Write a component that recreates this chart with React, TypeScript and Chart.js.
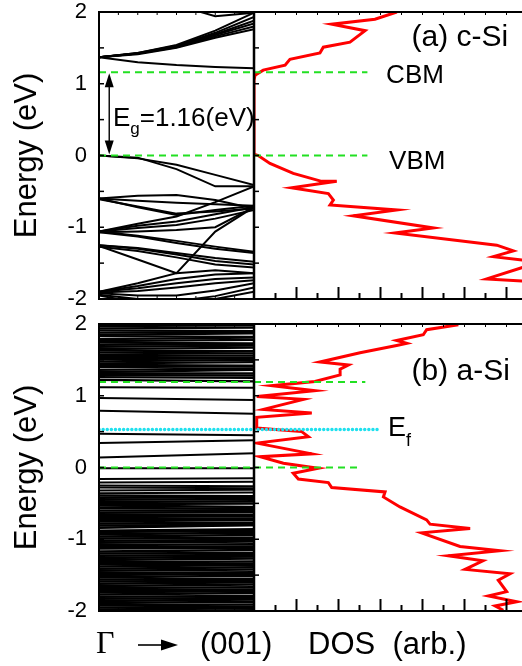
import React, { useEffect, useRef } from "react";
import { Chart, registerables } from "chart.js";

Chart.register(...registerables);

const FONT = "'Liberation Sans', Arial, Helvetica, sans-serif";
const SERIF = "'Liberation Serif', 'Times New Roman', serif";
const W = 522;
const H = 666;

// ---------------- data ----------------
const energyTicks = [-2, -1, 0, 1, 2];
const energyMinorTicks = [-1.5, -1, -0.5, 0, 0.5, 1, 1.5];
const kTicks = [0.125, 0.25, 0.375, 0.5, 0.625, 0.75, 0.875];
const dosTicks = [1, 2, 3, 4, 5, 6, 7, 8, 9, 10, 11, 12];
const dosMax = 12.76;

// c-Si band structure, energies (eV) at k nodes along Γ → (001)
const kNodes = [0, 0.25, 0.5, 0.75, 1];
const cSiBands = [
  [2.3, 2.2, 2.1, 1.94, 1.99],
  [1.37, 1.43, 1.54, 1.74, 1.99],
  [1.37, 1.43, 1.53, 1.71, 1.93],
  [1.37, 1.42, 1.52, 1.69, 1.88],
  [1.37, 1.42, 1.52, 1.68, 1.84],
  [1.37, 1.42, 1.51, 1.66, 1.8],
  [1.37, 1.41, 1.5, 1.64, 1.76],
  [1.37, 1.3, 1.26, 1.235, 1.215],
  [0, -0.04, -0.13, -0.27, -0.41],
  [0, -0.03, -0.19, -0.43, -0.43],
  [-0.6, -0.56, -0.55, -0.62, -0.74],
  [-0.6, -0.63, -0.66, -0.68, -0.7],
  [-0.6, -0.72, -0.83, -0.76, -0.7],
  [-0.61, -0.71, -0.81, -0.78, -0.74],
  [-1.06, -0.95, -0.85, -0.65, -0.43],
  [-1.06, -0.98, -0.92, -0.82, -0.72],
  [-1.06, -1.01, -0.97, -0.88, -0.76],
  [-1.07, -1.06, -1.04, -1.0, -0.72],
  [-1.06, -1.12, -1.19, -1.27, -1.34],
  [-1.07, -1.13, -1.22, -1.3, -1.36],
  [-1.25, -1.29, -1.36, -1.43, -1.48],
  [-1.25, -1.3, -1.38, -1.47, -1.52],
  [-1.27, -1.33, -1.42, -1.52, -1.56],
  [-1.26, -1.45, -1.64, -1.6, -1.64],
  [-1.9, -1.78, -1.64, -1.06, -0.72],
  [-1.9, -1.82, -1.72, -1.66, -1.64],
  [-1.9, -1.85, -1.78, -1.72, -1.7],
  [-1.91, -1.89, -1.84, -1.78, -1.74],
  [-1.92, -1.95, -1.95, -1.88, -1.78],
  [-1.94, -2.0, -2.03, -1.96, -1.84],
  [-1.95, -2.05, -2.1, -2.0, -1.9],
];

// a-Si band structure: energies (eV) at the two ends of the path
const aSiK = [0, 1];
const aSiUpperBands = [
  [2.0, 2.0], [1.97, 1.98], [1.94, 1.95], [1.91, 1.9], [1.88, 1.89], [1.85, 1.87],
  [1.83, 1.82], [1.79, 1.81], [1.76, 1.78], [1.74, 1.73], [1.71, 1.72], [1.68, 1.7],
  [1.65, 1.67], [1.63, 1.62], [1.6, 1.59], [1.57, 1.56], [1.54, 1.53], [1.51, 1.52],
  [1.48, 1.5], [1.45, 1.47], [1.43, 1.42], [1.4, 1.41], [1.36, 1.38], [1.33, 1.36],
  [1.31, 1.31], [1.29, 1.28], [1.26, 1.25], [1.22, 1.2],
];
const aSiGapBands = [
  [1.12, 1.11], [0.97, 0.94], [0.79, 0.75], [0.47, 0.45], [0.34, 0.38], [0.14, 0.2],
  [-0.01, -0.01], [-0.16, -0.15], [-0.21, -0.2], [-0.25, -0.26], [-0.28, -0.29],
  [-0.32, -0.31], [-0.36, -0.35],
];
const aSiLowerBands = [
  [-0.39, -0.4], [-0.42, -0.41], [-0.45, -0.44], [-0.48, -0.47],
  [-0.51, -0.5], [-0.53, -0.55], [-0.56, -0.58], [-0.6, -0.6], [-0.63, -0.62],
  [-0.66, -0.66], [-0.69, -0.68], [-0.72, -0.71], [-0.75, -0.73], [-0.78, -0.77],
  [-0.81, -0.8], [-0.84, -0.8], [-0.88, -0.86], [-0.9, -0.88], [-0.93, -0.91],
  [-0.96, -0.94], [-0.99, -0.98], [-1.02, -1.01], [-1.05, -1.03], [-1.08, -1.07],
  [-1.11, -1.1], [-1.13, -1.12], [-1.17, -1.15], [-1.2, -1.19], [-1.23, -1.22],
  [-1.26, -1.24], [-1.29, -1.27], [-1.32, -1.31], [-1.35, -1.34], [-1.38, -1.36],
  [-1.41, -1.39], [-1.44, -1.42], [-1.47, -1.46], [-1.5, -1.48], [-1.53, -1.51],
  [-1.56, -1.55], [-1.59, -1.58], [-1.62, -1.6], [-1.65, -1.63], [-1.68, -1.67],
  [-1.71, -1.7], [-1.74, -1.72], [-1.77, -1.75], [-1.8, -1.79], [-1.83, -1.82],
  [-1.86, -1.84], [-1.89, -1.87], [-1.92, -1.91], [-1.95, -1.94], [-1.98, -1.96],
  [-2.01, -1.99],
];

// DOS curves (energy in eV, DOS in arb. units)
const cSiDosEnergy = [
  2.0, 1.9, 1.83, 1.74, 1.58, 1.51, 1.43, 1.34, 1.26, 1.19, 1.12, 1.05, 0.02, 0.0,
  -0.11, -0.25, -0.36, -0.36, -0.45, -0.53, -0.62, -0.69, -0.76, -0.84, -1.01, -1.08,
  -1.25, -1.33, -1.41, -1.46, -1.5, -1.55, -1.72, -1.75, -2.0,
];
const cSiDos = [
  6.8, 5.76, 3.7, 5.29, 4.57, 3.3, 3.14, 1.71, 1.48, 0.44, 0.05, 0.0, 0.0, 0.2,
  0.76, 1.87, 3.22, 3.94, 1.79, 3.54, 3.78, 3.62, 6.8, 4.73, 8.54, 6.71,
  11.56, 12.35, 11.4, 12.9, 13.3, 12.9, 11.08, 12.9, 13.5,
];
const aSiDosEnergy = [
  1.99, 1.92, 1.85, 1.77, 1.73, 1.7, 1.6, 1.47, 1.43, 1.37, 1.29, 1.2, 1.14, 1.07,
  0.99, 0.95, 0.81, 0.76, 0.7, 0.55, 0.5, 0.43, 0.34, 0.19, 0.15, 0.06, -0.01,
  -0.08, -0.16, -0.21, -0.28, -0.34, -0.41, -0.55, -0.73, -0.79, -0.85, -0.91,
  -1.1, -1.16, -1.23, -1.3, -1.42, -1.48, -1.57, -1.73, -1.79, -1.87, -1.93, -1.99,
];
const aSiDos = [
  9.73, 8.22, 8.06, 6.79, 7.27, 6.79, 5.05, 3.14, 4.5, 4.1, 4.1, 2.9, 0.84, 2.9,
  0.13, 2.35, 0.44, 2.75, 0.13, 0.13, 2.27, 2.59, 0.13, 2.75, 0.29, 1.4, 3.06,
  1.87, 2.11, 3.54, 3.7, 6.24, 6.16, 6.95, 8.22, 8.38, 10.29, 7.98,
  9.81, 11.71, 9.25, 10.9, 10.05, 12.19, 11.63, 12.03, 11.16, 12.51, 11.48, 11.87,
];

// reference levels
const cSiLevels = [1.16, 0]; // CBM, VBM
const cSiLevelDosEnd = [5.4, 5.4];
const aSiLevels = [1.19, 0]; // band edges
const aSiLevelDosEnd = [5.3, 5.1];
const aSiFermi = 0.53;
const aSiFermiDosEnd = 5.9;
const gapArrowK = 0.066;

const GREEN = "#22e022";
const CYAN = "#1fe0ee";

// ---------------- helpers ----------------
type Part = { t: string; size: number; dy?: number; family?: string };
type Label = { x: number; y: number; parts: Part[] };

function textPlugin(id: string, labels: Label[]) {
  return {
    id,
    afterDatasetsDraw(chart: any) {
      const { ctx, scales } = chart;
      ctx.save();
      ctx.fillStyle = "#000";
      ctx.textBaseline = "middle";
      ctx.textAlign = "left";
      for (const L of labels) {
        let px = scales.x.getPixelForValue(L.x);
        const py = scales.y.getPixelForValue(L.y);
        for (const p of L.parts) {
          ctx.font = `${p.size}px ${p.family ?? FONT}`;
          ctx.fillText(p.t, px, py + (p.dy ?? 0));
          px += ctx.measureText(p.t).width;
        }
      }
      ctx.restore();
    },
  };
}

function framePlugin(kind: "band" | "dos") {
  return {
    id: "frame-" + kind,
    afterDatasetsDraw(chart: any) {
      const { ctx, chartArea: a, scales } = chart;
      const xs = scales.x;
      const ys = scales.y;
      ctx.save();
      ctx.strokeStyle = "#000";
      const seg = (x1: number, y1: number, x2: number, y2: number, w: number) => {
        ctx.lineWidth = w;
        ctx.beginPath();
        ctx.moveTo(x1, y1);
        ctx.lineTo(x2, y2);
        ctx.stroke();
      };
      for (const e of energyMinorTicks) {
        const py = ys.getPixelForValue(e);
        seg(a.left, py, a.left + 5, py, 1.5);
      }
      if (kind === "band") {
        for (const k of kTicks) {
          const px = xs.getPixelForValue(k);
          seg(px, a.bottom, px, a.bottom - 3, 1);
          seg(px, a.top, px, a.top + 3, 1);
        }
        ctx.lineWidth = 2;
        ctx.strokeRect(a.left, a.top, a.right - a.left, a.bottom - a.top);
      } else {
        for (const d of dosTicks) {
          const px = Math.round(xs.getPixelForValue(d)) + 0.5;
          seg(px, a.bottom, px, a.bottom - (d % 2 === 0 ? 12 : 6), 2);
          seg(px, a.top, px, a.top + 3, 1);
        }
        seg(a.left, a.top, a.right + 2, a.top, 2);
        seg(a.left, a.top - 1, a.left, a.bottom + 1, 2.5);
        seg(a.left, a.bottom, a.right + 2, a.bottom, 2);
      }
      ctx.restore();
    },
  };
}

const gapArrowPlugin = {
  id: "gapArrow",
  afterDatasetsDraw(chart: any) {
    const { ctx, scales } = chart;
    const x = scales.x.getPixelForValue(gapArrowK);
    const y1 = scales.y.getPixelForValue(cSiLevels[0]);
    const y2 = scales.y.getPixelForValue(cSiLevels[1]);
    const hl = 15;
    const hw = 4.5;
    ctx.save();
    ctx.strokeStyle = "#000";
    ctx.fillStyle = "#000";
    ctx.lineWidth = 1.4;
    ctx.beginPath();
    ctx.moveTo(x, y1 + hl - 2);
    ctx.lineTo(x, y2 - hl + 2);
    ctx.stroke();
    ctx.beginPath();
    ctx.moveTo(x, y1 + 1);
    ctx.lineTo(x - hw, y1 + hl);
    ctx.lineTo(x + hw, y1 + hl);
    ctx.closePath();
    ctx.fill();
    ctx.beginPath();
    ctx.moveTo(x, y2 - 1);
    ctx.lineTo(x - hw, y2 - hl);
    ctx.lineTo(x + hw, y2 - hl);
    ctx.closePath();
    ctx.fill();
    ctx.restore();
  },
};

const bottomLabelPlugin = {
  id: "bottomLabels",
  afterDatasetsDraw(chart: any) {
    const { ctx, chartArea: a } = chart;
    const y = a.bottom + 34;
    ctx.save();
    ctx.fillStyle = "#000";
    ctx.strokeStyle = "#000";
    ctx.textBaseline = "middle";
    ctx.textAlign = "left";
    ctx.font = `32px ${SERIF}`;
    ctx.fillText("Γ", a.left - 3, y);
    // arrow
    ctx.lineWidth = 1.6;
    ctx.beginPath();
    ctx.moveTo(a.left + 39, y);
    ctx.lineTo(a.left + 66, y);
    ctx.stroke();
    ctx.beginPath();
    ctx.moveTo(a.left + 79, y);
    ctx.lineTo(a.left + 62, y - 5.5);
    ctx.lineTo(a.left + 62, y + 5.5);
    ctx.closePath();
    ctx.fill();
    ctx.font = `31px ${FONT}`;
    ctx.fillText("(001)", a.left + 101, y);
    ctx.fillText("DOS  (arb.)", a.left + 209, y);
    ctx.restore();
  },
};

function levelDataset(y: number, x0: number, x1: number, color: string, dash: number[], width: number, cap: CanvasLineCap = "butt") {
  return {
    data: [
      { x: x0, y },
      { x: x1, y },
    ],
    borderColor: color,
    borderDash: dash,
    borderWidth: width,
    borderCapStyle: cap,
    showLine: true,
    pointRadius: 0,
    clip: 0,
    order: 0,
  };
}

function bandDatasets(bands: number[][], ks: number[], width: number) {
  return bands.map((b) => ({
    data: ks.map((k, i) => ({ x: k, y: b[i] })),
    borderColor: "#000",
    borderWidth: width,
    showLine: true,
    pointRadius: 0,
    clip: 0,
    order: 1,
  }));
}

function bandConfig(top: number, bottom: number, bandSets: any[], levels: any[], extra: any[]) {
  return {
    type: "scatter",
    data: { datasets: [...levels, ...bandSets] },
    options: {
      animation: false,
      responsive: false,
      devicePixelRatio: 1,
      layout: { padding: { left: 0, top, right: W - 254, bottom: H - bottom } },
      plugins: { legend: { display: false }, tooltip: { enabled: false } },
      events: [],
      scales: {
        x: { type: "linear", min: 0, max: 1, display: false },
        y: {
          type: "linear",
          min: -2,
          max: 2,
          afterBuildTicks: (s: any) => {
            s.ticks = energyTicks.map((v) => ({ value: v }));
          },
          afterFit: (s: any) => {
            s.width = 99;
            s.paddingTop = 0;
            s.paddingBottom = 0;
          },
          ticks: { color: "#000", padding: 12, font: { size: 22, family: FONT } },
          grid: { display: false, drawTicks: false },
          border: { display: false },
          title: {
            display: true,
            text: "Energy (eV)",
            color: "#000",
            font: { size: 31, family: FONT },
            padding: { top: 9, bottom: 0 },
          },
        },
      },
    },
    plugins: [framePlugin("band"), ...extra],
  } as any;
}

function dosConfig(top: number, bottom: number, energy: number[], dos: number[], levels: any[], extra: any[]) {
  return {
    type: "scatter",
    data: {
      datasets: [
        ...levels,
        {
          data: energy.map((e, i) => ({ x: dos[i], y: e })),
          borderColor: "#ff0000",
          borderWidth: 3,
          borderJoinStyle: "miter",
          showLine: true,
          pointRadius: 0,
          clip: 0,
          order: 1,
        },
      ],
    },
    options: {
      animation: false,
      responsive: false,
      devicePixelRatio: 1,
      layout: { padding: { left: 254, top, right: 0, bottom: H - bottom } },
      plugins: { legend: { display: false }, tooltip: { enabled: false } },
      events: [],
      scales: {
        x: { type: "linear", min: 0, max: dosMax, display: false },
        y: { type: "linear", min: -2, max: 2, display: false },
      },
    },
    plugins: [framePlugin("dos"), ...extra],
  } as any;
}

export default function App() {
  const r0 = useRef<HTMLCanvasElement>(null);
  const r1 = useRef<HTMLCanvasElement>(null);
  const r2 = useRef<HTMLCanvasElement>(null);
  const r3 = useRef<HTMLCanvasElement>(null);

  useEffect(() => {
    const dash: number[] = [7, 5];
    const charts = [
      new Chart(
        r0.current!,
        bandConfig(
          12,
          299,
          bandDatasets(cSiBands, kNodes, 2),
          cSiLevels.map((e) => levelDataset(e, 0, 1, GREEN, dash, 2)),
          [
            gapArrowPlugin,
            textPlugin("gapText", [
              {
                x: 0.09,
                y: 0.51,
                parts: [
                  { t: "E", size: 26 },
                  { t: "g", size: 17, dy: 10 },
                  { t: "=1.16(eV)", size: 26 },
                ],
              },
            ]),
          ]
        )
      ),
      new Chart(
        r1.current!,
        dosConfig(
          12,
          299,
          cSiDosEnergy,
          cSiDos,
          cSiLevels.map((e, i) => levelDataset(e, 0, cSiLevelDosEnd[i], GREEN, dash, 2)),
          [
            textPlugin("cSiText", [
              { x: 7.5, y: 1.64, parts: [{ t: "(a) c-Si", size: 30 }] },
              { x: 6.29, y: 1.11, parts: [{ t: "CBM", size: 26 }] },
              { x: 6.43, y: -0.09, parts: [{ t: "VBM", size: 26 }] },
            ]),
          ]
        )
      ),
      new Chart(
        r2.current!,
        bandConfig(
          324,
          611,
          [
            ...bandDatasets(aSiUpperBands, aSiK, 2.3),
            ...bandDatasets(aSiGapBands, aSiK, 2),
            ...bandDatasets(aSiLowerBands, aSiK, 2.5),
          ],
          [
            ...aSiLevels.map((e) => levelDataset(e, 0, 1, GREEN, dash, 2)),
            levelDataset(aSiFermi, 0, 1, CYAN, [0.1, 4], 3.4, "round"),
          ],
          [bottomLabelPlugin]
        )
      ),
      new Chart(
        r3.current!,
        dosConfig(
          324,
          611,
          aSiDosEnergy,
          aSiDos,
          [
            ...aSiLevels.map((e, i) => levelDataset(e, 0, aSiLevelDosEnd[i], GREEN, dash, 2)),
            levelDataset(aSiFermi, 0, aSiFermiDosEnd, CYAN, [0.1, 4], 3.4, "round"),
          ],
          [
            textPlugin("aSiText", [
              { x: 7.5, y: 1.33, parts: [{ t: "(b) a-Si", size: 30 }] },
              {
                x: 6.38,
                y: 0.54,
                parts: [
                  { t: "E", size: 27 },
                  { t: "f", size: 18, dy: 12 },
                ],
              },
            ]),
          ]
        )
      ),
    ];
    return () => charts.forEach((c) => c.destroy());
  }, []);

  const cs: React.CSSProperties = { position: "absolute", left: 0, top: 0, width: W, height: H };
  return (
    <div style={{ position: "absolute", left: 0, top: 0, width: W, height: H, background: "#fff", overflow: "hidden" }}>
      <canvas ref={r0} width={W} height={H} style={cs} />
      <canvas ref={r1} width={W} height={H} style={cs} />
      <canvas ref={r2} width={W} height={H} style={cs} />
      <canvas ref={r3} width={W} height={H} style={cs} />
    </div>
  );
}
